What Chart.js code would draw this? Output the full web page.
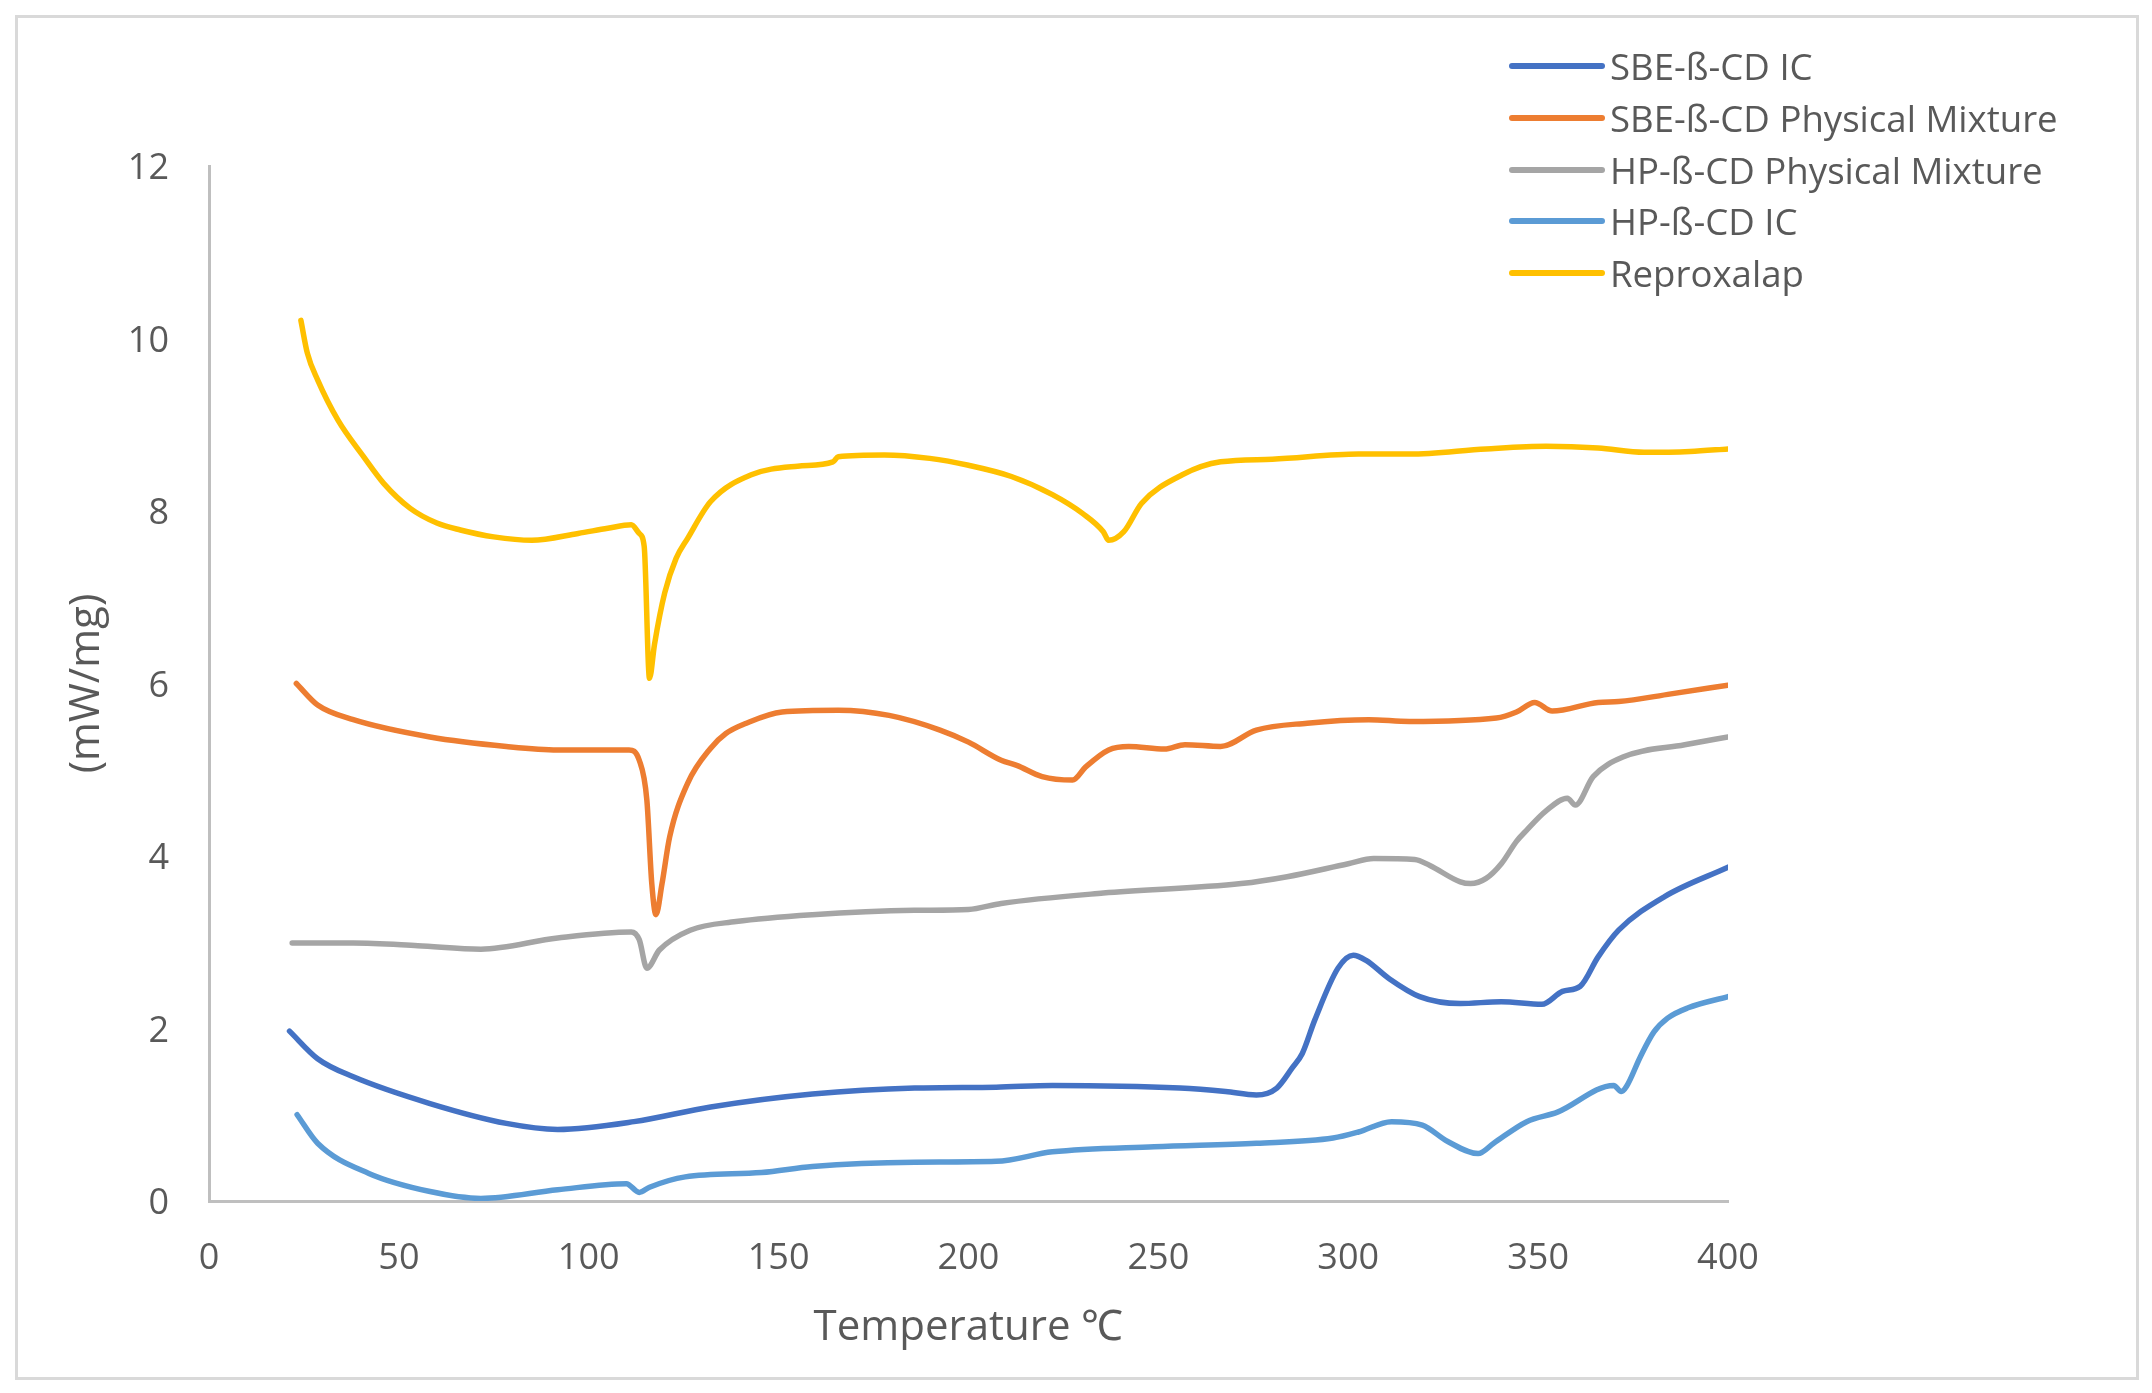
<!DOCTYPE html>
<html>
<head>
<meta charset="utf-8">
<script src="https://cdn.jsdelivr.net/npm/chart.js@4.4.1/dist/chart.umd.min.js"></script>
<style>
  html, body { margin: 0; padding: 0; background: #fff; }
  #wrap { position: relative; width: 2152px; height: 1393px; overflow: hidden; }
  #frame { position: absolute; left: 15px; top: 15px; width: 2118px; height: 1359px; border: 3px solid #d9d9d9; box-sizing: content-box; pointer-events: none; }
  #c { position: absolute; left: 0; top: 0; }
  #legend { position: absolute; left: 1509px; top: 40px; font-family: 'Open Sans', sans-serif; font-size: 36.6px; color: #595959; }
  #legend .row { position: absolute; left: 0; height: 52px; white-space: nowrap; }
  #legend .sw { position: absolute; left: 0; top: 23px; width: 96px; height: 6px; border-radius: 3px; }
  #legend .tx { position: absolute; left: 101px; top: 0; line-height: 52px; }
</style>
</head>
<body>
<div id="wrap">
  <canvas id="c" width="2152" height="1393"></canvas>
  <div id="frame"></div>
  <div id="legend"></div>
</div>
<script>
'use strict';
// DSC curves — heat flow (mW/mg) vs temperature, 5 samples.
const LABELS = ['SBE-ß-CD IC', 'SBE-ß-CD Physical Mixture', 'HP-ß-CD Physical Mixture', 'HP-ß-CD IC', 'Reproxalap'];
const COLORS = ['#4472C4', '#ED7D31', '#A5A5A5', '#5B9BD5', '#FFC000'];
const X_TICKS = [0, 50, 100, 150, 200, 250, 300, 350, 400];
const Y_TICKS = [0, 2, 4, 6, 8, 10, 12];

const sbeIcT = [21.2, 28.6, 38.0, 58.2, 78.3, 91.8, 111.9, 132.1, 158.9, 185.8, 207.3, 222.1, 255.7, 267.7, 275.8, 281.2, 285.2, 287.9, 291.2, 297.3, 301.3, 304.7, 310.7, 318.8, 329.5, 340.3, 351.0, 356.4, 361.1, 365.8, 371.2, 383.3, 400];
const sbeIcV = [1.97, 1.65, 1.44, 1.13, 0.90, 0.83, 0.92, 1.09, 1.24, 1.31, 1.32, 1.34, 1.31, 1.27, 1.23, 1.31, 1.54, 1.71, 2.10, 2.70, 2.85, 2.79, 2.58, 2.37, 2.29, 2.31, 2.28, 2.43, 2.49, 2.83, 3.14, 3.53, 3.87];

const sbePmT = [23.0, 28.6, 38.0, 58.2, 78.3, 91.8, 110.6, 113.3, 115.3, 116.6, 117.7, 119.3, 121.3, 126.0, 132.1, 136.1, 141.5, 150.9, 165.7, 179.1, 192.5, 200, 208.6, 212.7, 219.4, 227.4, 230.8, 236.9, 242.2, 251.6, 257.0, 266.4, 275.8, 289.2, 305.4, 316.1, 339.0, 344.3, 349.1, 353.7, 365.8, 371.2, 385, 400];
const sbePmV = [6.00, 5.75, 5.58, 5.38, 5.27, 5.23, 5.23, 5.11, 4.65, 3.68, 3.32, 3.68, 4.22, 4.84, 5.25, 5.42, 5.54, 5.67, 5.69, 5.63, 5.46, 5.32, 5.11, 5.05, 4.92, 4.88, 5.03, 5.23, 5.27, 5.24, 5.29, 5.27, 5.46, 5.54, 5.58, 5.56, 5.60, 5.67, 5.78, 5.68, 5.78, 5.79, 5.88, 5.98];

const hpPmT = [21.9, 38.0, 55, 71.6, 91.8, 111.2, 113.3, 115.3, 118.6, 126.7, 138.8, 158.9, 185.8, 200, 208.6, 235.5, 271.8, 283.9, 300.0, 306.7, 317.5, 321.5, 329.5, 332.2, 336.3, 340.3, 344.3, 347, 352, 357.7, 359.8, 364.5, 372.5, 388.6, 400];
const hpPmV = [2.99, 2.99, 2.96, 2.92, 3.05, 3.12, 3.03, 2.70, 2.91, 3.14, 3.24, 3.32, 3.37, 3.38, 3.45, 3.57, 3.68, 3.76, 3.91, 3.97, 3.96, 3.89, 3.70, 3.68, 3.74, 3.91, 4.17, 4.30, 4.52, 4.67, 4.59, 4.92, 5.15, 5.29, 5.38];

const hpIcT = [23.2, 28.6, 42.1, 58.2, 71.6, 91.8, 109.9, 113.3, 116.0, 125.4, 145.5, 158.9, 185.8, 207.3, 222.1, 248.9, 275.8, 296.0, 302.7, 311.4, 319.5, 326.2, 334.2, 338.3, 347.0, 355.1, 369.9, 371.9, 373.3, 376.9, 380.5, 384.1, 389.5, 400];
const hpIcV = [1.00, 0.67, 0.32, 0.11, 0.03, 0.13, 0.20, 0.10, 0.16, 0.28, 0.33, 0.40, 0.45, 0.46, 0.57, 0.63, 0.67, 0.73, 0.80, 0.92, 0.88, 0.69, 0.55, 0.67, 0.92, 1.03, 1.34, 1.27, 1.33, 1.67, 1.96, 2.12, 2.24, 2.37];

const reproT = [24.2, 25.9, 28.6, 34.0, 40.7, 46.0, 53.0, 60.0, 66.2, 75, 85.0, 97.2, 105, 111.2, 113.3, 114.6, 116.0, 117.3, 120.0, 123, 126.0, 132.1, 142.8, 155, 164.3, 165.7, 177.8, 189.8, 200, 211.3, 222.1, 230.1, 235.5, 236.9, 240.9, 245.6, 256.3, 266.4, 280, 302.7, 316.1, 336.3, 352.1, 365.8, 377.9, 390, 400];
const reproV = [10.21, 9.83, 9.52, 9.05, 8.63, 8.32, 8.03, 7.86, 7.78, 7.70, 7.66, 7.74, 7.80, 7.84, 7.74, 7.59, 6.06, 6.45, 7.05, 7.45, 7.68, 8.11, 8.42, 8.52, 8.57, 8.63, 8.65, 8.61, 8.53, 8.40, 8.19, 7.97, 7.76, 7.66, 7.76, 8.09, 8.42, 8.57, 8.60, 8.66, 8.66, 8.72, 8.75, 8.73, 8.68, 8.69, 8.72];

const SERIES = [[sbeIcT, sbeIcV], [sbePmT, sbePmV], [hpPmT, hpPmV], [hpIcT, hpIcV], [reproT, reproV]];
const pts = (t, v) => t.map((x, i) => ({ x, y: v[i] }));

const FONT = "'Open Sans', sans-serif";
const TXT = '#595959', AX = '#bfbfbf';

const datasets = SERIES.map(([t, v], i) => ({
  label: LABELS[i], data: pts(t, v),
  borderColor: COLORS[i], backgroundColor: COLORS[i],
  borderWidth: 5.5, pointRadius: 0, pointHoverRadius: 0,
  cubicInterpolationMode: 'monotone', borderCapStyle: 'round', borderJoinStyle: 'round', fill: false,
}));

new Chart(document.getElementById('c').getContext('2d'), {
  type: 'line',
  data: { datasets },
  options: {
    responsive: false, animation: false, devicePixelRatio: 1,
    layout: { padding: { top: 166, right: 424, left: 62, bottom: 0 } },
    plugins: { legend: { display: false }, tooltip: { enabled: false } },
    scales: {
      x: {
        type: 'linear', min: 0, max: 400,
        afterBuildTicks: s => { s.ticks = X_TICKS.map(v => ({ value: v })); },
        afterFit: s => { s.height = 192; },
        grid: { display: false, drawTicks: false },
        border: { display: true, color: AX, width: 3 },
        ticks: { color: TXT, font: { family: FONT, size: 36 }, padding: 36, maxRotation: 0 },
        title: { display: true, text: 'Temperature ℃', color: TXT, font: { family: FONT, size: 42 }, padding: { top: 0, bottom: 40 } },
      },
      y: {
        type: 'linear', min: 0, max: 12,
        afterBuildTicks: s => { s.ticks = Y_TICKS.map(v => ({ value: v })); },
        afterFit: s => { s.width = 209 - 62; },
        grid: { display: false, drawTicks: false },
        border: { display: true, color: AX, width: 3 },
        ticks: { color: TXT, font: { family: FONT, size: 36 }, padding: 40, labelOffset: 3 },
        title: { display: true, text: '(mW/mg)', color: TXT, font: { family: FONT, size: 42 }, padding: { top: 0, bottom: 0 } },
      },
    },
  },
});

// légende à droite, en haut (chevauche la zone du graphe comme l'original)
const lg = document.getElementById('legend');
lg.innerHTML = LABELS.map((l, i) => `<div class="row" style="top:${i * 51.8}px"><span class="sw" style="background:${COLORS[i]}"></span><span class="tx">${l}</span></div>`).join('');
</script>
</body>
</html>
